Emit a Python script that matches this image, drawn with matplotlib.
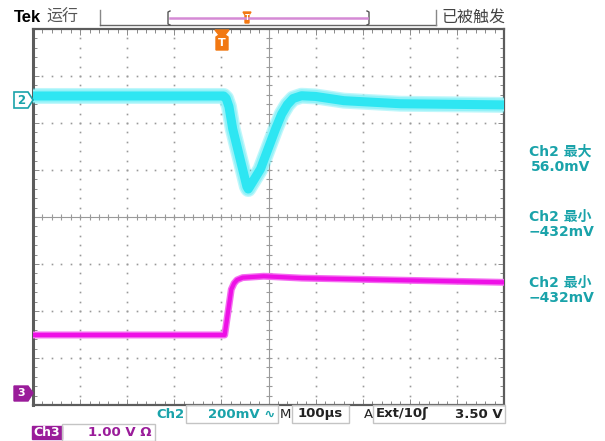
import numpy as np
import matplotlib.pyplot as plt
from matplotlib.patches import Polygon, Rectangle

plt.rcParams['font.family'] = ['Noto Sans CJK SC', 'DejaVu Sans']

# time in us relative to trigger, Ch2 in mV, Ch3 in V
ch2_t = [-400, 5, 10, 16, 24, 45, 54, 57, 61, 83, 115, 128, 140, 152, 170, 200, 260, 380, 600]
ch2_mv = [15, 15, 5, -30, -125, -296, -370, -381, -368, -296, -125, -62, -22, 4, 16, 13, -5, -18, -23]
ch3_t = [-400, 7, 21, 27, 33, 45, 90, 170, 600]
ch3_v = [1.24, 1.24, 2.21, 2.34, 2.41, 2.46, 2.49, 2.45, 2.36]

ch2_scale, ch2_pos = 200.0, 2.5     # mV/div, ground offset in div
ch3_scale, ch3_pos = 1.0, -3.75     # V/div
time_div = 100.0                    # us/div
t_left = -400

readouts = [("Ch2 最大", "56.0mV", 152), ("Ch2 最小", "\u2212432mV", 217), ("Ch2 最小", "\u2212432mV", 283)]

CYAN = "#2EE6F2"
CYAN_EDGE = "#93F2F8"
MAGENTA = "#EE10E6"
TEAL = "#1AA3AA"
PURPLE = "#9A1C9A"
ORANGE = "#F27812"
GRID = "#8A8A8A"
FRAME = "#5C5C5C"

W, H = 605, 441
fig = plt.figure(figsize=(W / 100, H / 100), dpi=100)
fig.patch.set_facecolor("white")

x0, x1, y0, y1 = 33, 504, 29, 405
ax = fig.add_axes([x0 / W, 1 - y1 / H, (x1 - x0) / W, (y1 - y0) / H])
t_right = t_left + 10 * time_div
ax.set_xlim(t_left, t_right)
ax.set_ylim(-4, 4)
ax.set_facecolor("white")

# graticule: dotted division lines, solid centre cross with fine ticks
minor_x = np.arange(t_left, t_right + 1e-6, time_div / 5)
minor_y = np.arange(-4, 4 + 1e-6, 0.2)
for k in range(1, 10):
    xv = t_left + k * time_div
    if k == 5:
        continue
    ax.plot(np.full_like(minor_y, xv), minor_y, ls="none", marker="s", ms=1.2, color="#999999", mew=0)
for k in range(-3, 4):
    if k == 0:
        continue
    ax.plot(minor_x, np.full_like(minor_x, k), ls="none", marker="s", ms=1.2, color="#999999", mew=0)
tc = t_left + 5 * time_div
ax.axvline(tc, color="#9A9A9A", lw=0.8)
ax.axhline(0, color="#9A9A9A", lw=0.8)
ax.plot(minor_x, np.zeros_like(minor_x), ls="none", marker="|", ms=4.5, mew=0.8, color="#9A9A9A")
ax.plot(np.full_like(minor_y, tc), minor_y, ls="none", marker="_", ms=4.5, mew=0.8, color="#9A9A9A")

ax.set_xticks(minor_x, minor=True)
ax.set_yticks(minor_y, minor=True)
ax.set_xticks(np.arange(t_left, t_right + 1, time_div))
ax.set_yticks(np.arange(-4, 5, 1))
ax.tick_params(which="both", direction="in", top=True, right=True, labelbottom=False, labelleft=False, color=GRID)
ax.tick_params(which="minor", length=3, width=0.7)
ax.tick_params(which="major", length=4, width=0.7)
for s in ax.spines.values():
    s.set_color(FRAME)
    s.set_linewidth(1.6)
ax.spines["left"].set_linewidth(2.2)

# traces
ch2_y = ch2_pos + np.array(ch2_mv) / ch2_scale
ch3_y = ch3_pos + np.array(ch3_v) / ch3_scale
ax.plot(ch2_t, ch2_y, color=CYAN, alpha=0.3, lw=11.5, solid_joinstyle="round", solid_capstyle="butt", zorder=4)
ax.plot(ch2_t, ch2_y, color=CYAN_EDGE, lw=9.5, solid_joinstyle="round", solid_capstyle="butt", zorder=5)
ax.plot(ch2_t, ch2_y, color=CYAN, lw=6.5, solid_joinstyle="round", solid_capstyle="butt", zorder=6)
ax.plot(ch3_t, ch3_y, color="#F46CF0", lw=5, solid_joinstyle="round", zorder=5)
ax.plot(ch3_t, ch3_y, color=MAGENTA, lw=3, solid_joinstyle="round", zorder=6)

# overlay in pixel coordinates for the scope annotations
ov = fig.add_axes([0, 0, 1, 1], zorder=10)
ov.set_xlim(0, W)
ov.set_ylim(H, 0)
ov.axis("off")
ov.patch.set_alpha(0)

# status bar
ov.text(14, 17, "Tek", fontsize=12, fontweight="bold", family=["Liberation Sans", "DejaVu Sans"], va="center", ha="left")
ov.text(46, 17, "运行", fontsize=11.5, color="#555555", va="center", ha="left")
ov.plot([100, 100], [10, 25], color="#888888", lw=1)
ov.plot([100, 436], [25, 25], color="#666666", lw=1)
ov.plot([436, 436], [10, 25], color="#888888", lw=1)
ov.text(441, 17, "已被触发", fontsize=11.5, color="#444444", va="center", ha="left")
ov.plot([170, 168, 168, 170], [11, 12, 24, 25], color="#555555", lw=1)
ov.plot([367, 369, 369, 367], [11, 12, 24, 25], color="#555555", lw=1)
ov.plot([170, 367], [18, 18], color="#D58AD5", lw=1.8)
ov.add_patch(Polygon([[243, 12], [251, 12], [249, 15], [249, 23], [245, 23], [245, 15]], closed=True, color=ORANGE))
ov.text(247, 18, "T", fontsize=5.5, color="white", ha="center", va="center", fontweight="bold")

# trigger position marker
ov.add_patch(Polygon([[215, 30], [229, 30], [225, 35], [228, 37], [228, 50], [216, 50], [216, 37], [219, 35]], closed=True, color=ORANGE))
ov.text(222, 43, "T", fontsize=8, color="white", ha="center", va="center", fontweight="bold", family="DejaVu Sans")

# channel ground markers
ov.add_patch(Polygon([[14, 92], [28, 92], [33, 100], [28, 108], [14, 108]], closed=True, fc="white", ec=TEAL, lw=1.2))
ov.text(21, 100, "2", fontsize=8.5, color=TEAL, ha="center", va="center", fontweight="bold", family="DejaVu Sans")
ov.add_patch(Polygon([[14, 386], [28, 386], [33, 393], [28, 401], [14, 401]], closed=True, color=PURPLE))
ov.text(21, 393.5, "3", fontsize=8, color="white", ha="center", va="center", fontweight="bold", family="DejaVu Sans")

# measurement readouts
for name, val, yy in readouts:
    ov.text(560, yy, name, fontsize=10, color=TEAL, ha="center", va="center", fontweight="bold",
            family=["DejaVu Sans", "Noto Sans CJK SC"])
    ov.text(561, yy + 15, val, fontsize=10, color=TEAL, ha="center", va="center", fontweight="bold",
            family="DejaVu Sans")

# bottom settings
box_kw = dict(fill=False, ec="#C4C4C4", lw=1)
ov.text(170, 414, "Ch2", fontsize=9.5, color=TEAL, ha="center", va="center", fontweight="bold", family="DejaVu Sans")
ov.add_patch(Rectangle((186, 405), 92, 18, **box_kw))
ov.text(275, 414, "200mV \u223f", fontsize=9.5, color=TEAL, ha="right", va="center", fontweight="bold", family="DejaVu Sans")
ov.text(285, 414, "M", fontsize=9.5, color="#222222", ha="center", va="center", family="DejaVu Sans")
ov.add_patch(Rectangle((292, 405), 57, 18, **box_kw))
ov.text(320, 414, "100\u00b5s", fontsize=9.5, color="#222222", ha="center", va="center", fontweight="bold", family="DejaVu Sans")
ov.text(368, 414, "A", fontsize=9.5, color="#222222", ha="center", va="center", family="DejaVu Sans")
ov.add_patch(Rectangle((373, 405), 132, 18, **box_kw))
ov.text(376, 414, "Ext/10\u0283", fontsize=9.5, color="#222222", ha="left", va="center", fontweight="bold", family="DejaVu Sans")
ov.text(503, 414, "3.50 V", fontsize=9.5, color="#222222", ha="right", va="center", fontweight="bold", family="DejaVu Sans")

ov.add_patch(Rectangle((32, 426), 30, 13, color=PURPLE))
ov.text(47, 432.5, "Ch3", fontsize=9, color="white", ha="center", va="center", fontweight="bold", family="DejaVu Sans")
ov.add_patch(Rectangle((62, 424), 93, 17, **box_kw))
ov.text(152, 432.5, "1.00 V \u03a9", fontsize=9.5, color=PURPLE, ha="right", va="center", fontweight="bold", family="DejaVu Sans")

fig.savefig("out.png", dpi=100, facecolor="white")
